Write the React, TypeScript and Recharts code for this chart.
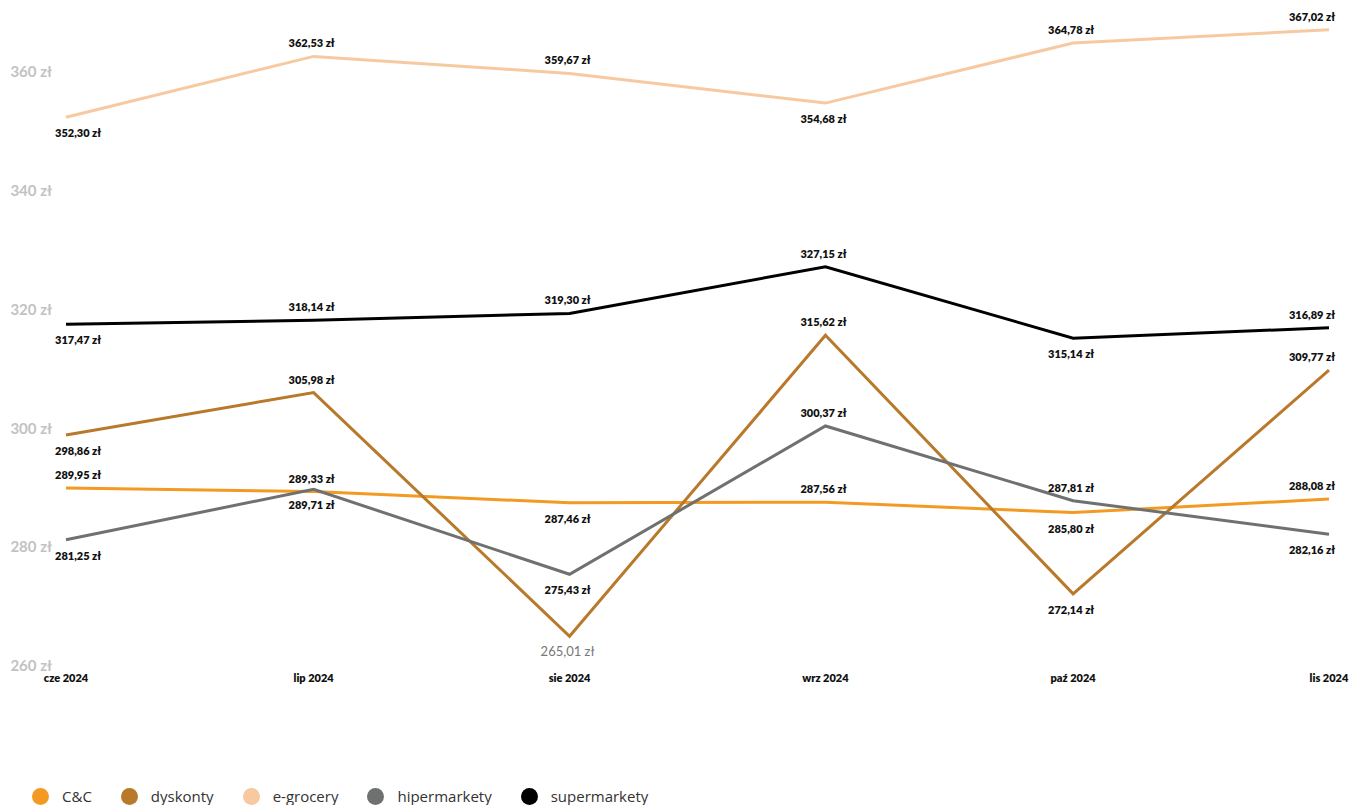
import { Line, LineChart, XAxis, YAxis } from "recharts";

// miesiące (oś X jest osią czasu — punkty rozłożone wg dni)
const miesiace = ["cze 2024", "lip 2024", "sie 2024", "wrz 2024", "paź 2024", "lis 2024"];
const daty = ["2024-06-01", "2024-07-01", "2024-08-01", "2024-09-01", "2024-10-01", "2024-11-01"];

const cc = [289.95, 289.33, 287.46, 287.56, 285.8, 288.08];
const dyskonty = [298.86, 305.98, 265.01, 315.62, 272.14, 309.77];
const eGrocery = [352.3, 362.53, 359.67, 354.68, 364.78, 367.02];
const hipermarkety = [281.25, 289.71, 275.43, 300.37, 287.81, 282.16];
const supermarkety = [317.47, 318.14, 319.3, 327.15, 315.14, 316.89];

const yTicks = [260, 280, 300, 320, 340, 360];

// gdzie stoi etykieta: nad ("a") / pod ("b") punktem; "g" = szara, zwykła
const poz: Record<string, string[]> = {
  cc: ["a", "a", "b", "a", "b", "a"],
  dyskonty: ["b", "a", "g", "a", "b", "a"],
  eGrocery: ["b", "a", "a", "b", "a", "a"],
  hipermarkety: ["b", "b", "b", "a", "a", "b"],
  supermarkety: ["b", "a", "a", "a", "b", "a"],
};

const serie = [
  { key: "cc", name: "C&C", color: "#F39A22" },
  { key: "dyskonty", name: "dyskonty", color: "#B8792B" },
  { key: "eGrocery", name: "e-grocery", color: "#F7C9A1" },
  { key: "hipermarkety", name: "hipermarkety", color: "#6F7070" },
  { key: "supermarkety", name: "supermarkety", color: "#000000" },
];

const dane = daty.map((d, i) => ({
  t: Date.parse(d),
  cc: cc[i],
  dyskonty: dyskonty[i],
  eGrocery: eGrocery[i],
  hipermarkety: hipermarkety[i],
  supermarkety: supermarkety[i],
}));

const zl = (v: number) => v.toFixed(2).replace(".", ",") + " zł";
const font = "Lato, 'Open Sans', sans-serif";

function etykieta(key: string) {
  return (p: any) => {
    const { x, y, index, value } = p;
    const tryb = poz[key][index];
    const ost = index === daty.length - 1;
    const anchor = index === 0 ? "start" : ost ? "end" : "middle";
    const tx = index === 0 ? x - 11 : ost ? x + 6 : x - 2;
    if (tryb === "g") {
      return (
        <text key={key + index} x={tx} y={y + 20} textAnchor={anchor} fill="#777" fontSize={13} fontFamily={font}>
          {zl(value)}
        </text>
      );
    }
    return (
      <text
        key={key + index}
        x={tx}
        y={tryb === "a" ? y - 9 : y + 20}
        textAnchor={anchor}
        fill="#111"
        fontSize={11}
        fontWeight={800}
        fontFamily={font}
      >
        {zl(value)}
      </text>
    );
  };
}

export default function App() {
  return (
    <div style={{ position: "absolute", left: 0, top: 0, width: 1350, height: 805, background: "#fff", overflow: "hidden" }}>
      <LineChart width={1350} height={700} data={dane} margin={{ top: 12, right: 21, left: 0, bottom: 4 }}>
        <XAxis
          dataKey="t"
          type="number"
          domain={["dataMin", "dataMax"]}
          ticks={dane.map((d) => d.t)}
          tickFormatter={(v: number) => miesiace[dane.findIndex((d) => d.t === v)]}
          tick={{ fill: "#111", fontSize: 11, fontWeight: 800, fontFamily: font }}
          axisLine={false}
          tickLine={false}
          interval={0}
        />
        <YAxis
          width={66}
          domain={[260, 370]}
          ticks={yTicks}
          tickFormatter={(v: number) => `${v} zł`}
          tick={{ fill: "#c2c2c2", fontSize: 15, fontWeight: 700, fontFamily: font }}
          axisLine={false}
          tickLine={false}
          tickSize={6}
          tickMargin={8}
        />
        {serie.map((s) => (
          <Line
            key={s.key}
            type="linear"
            dataKey={s.key}
            name={s.name}
            stroke={s.color}
            strokeWidth={3}
            dot={false}
            activeDot={false}
            label={etykieta(s.key)}
            isAnimationActive={false}
          />
        ))}
      </LineChart>
      <div
        style={{
          position: "absolute",
          left: 32,
          top: 787,
          height: 18,
          display: "flex",
          alignItems: "center",
          gap: 29,
          fontFamily: "'Liberation Sans Narrow', 'Open Sans', sans-serif",
          fontSize: 15,
          lineHeight: "18px",
          color: "#333",
        }}
      >
        {serie.map((s) => (
          <div key={s.key} style={{ display: "flex", alignItems: "center", gap: 13 }}>
            <span style={{ width: 17, height: 17, borderRadius: "50%", background: s.color, display: "inline-block" }} />
            <span>{s.name}</span>
          </div>
        ))}
      </div>
    </div>
  );
}
